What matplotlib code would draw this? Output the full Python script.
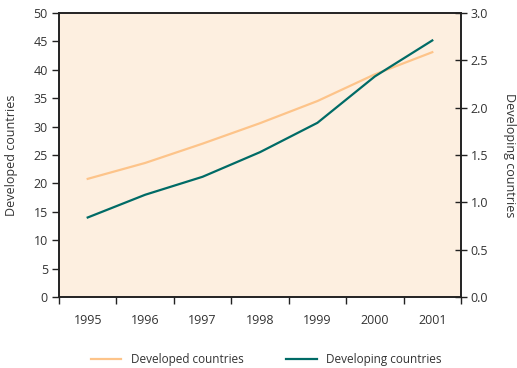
import numpy as np
import matplotlib.pyplot as plt
from matplotlib.lines import Line2D

plt.rcParams['font.family'] = ['Open Sans', 'DejaVu Sans']

years = ['1995', '1996', '1997', '1998', '1999', '2000', '2001']
developed = [20.8, 23.6, 27.0, 30.6, 34.5, 39.2, 43.1]
developing = [0.84, 1.08, 1.27, 1.53, 1.84, 2.33, 2.71]

orange = '#fdc48a'
teal = '#006b66'
txt = '#333333'

fig = plt.figure(figsize=(5.17, 3.68), dpi=100)
ax = fig.add_axes([0.1141, 0.1929, 0.7776, 0.7718])
ax.set_facecolor('#fdefe0')
ax2 = ax.twinx()

x = np.arange(len(years))
ax.plot(x, developed, color=orange, lw=1.6)
ax2.plot(x, developing, color=teal, lw=1.6)

ax.set_xlim(-0.5, len(years) - 0.5)
ax.set_ylim(0, 50)
ax2.set_ylim(0, 3)
ax.set_yticks(np.arange(0, 51, 5))
ax2.set_yticks(np.arange(0, 3.01, 0.5))
ax2.set_yticklabels(['%.1f' % v for v in np.arange(0, 3.01, 0.5)])

# ticks between categories, labels centred on them
ax.set_xticks(np.arange(-0.5, len(years), 1.0))
ax.set_xticklabels([])
ax.set_xticks(x, minor=True)
ax.set_xticklabels(years, minor=True)
ax.tick_params(axis='x', which='minor', length=0, pad=12, labelsize=9, labelcolor=txt)
ax.tick_params(axis='x', which='major', length=5, width=1, color='#222222')
ax.tick_params(axis='y', length=5, width=1, color='#222222', labelsize=9, labelcolor=txt, pad=3)
ax2.tick_params(axis='y', direction='inout', length=8, width=1, color='#222222',
                labelsize=9, labelcolor=txt, pad=3)

for a in (ax, ax2):
    for s in a.spines.values():
        s.set_color('#222222')
        s.set_linewidth(1.2)

ax.set_ylabel('Developed countries', fontsize=9, color=txt, labelpad=11)
ax2.set_ylabel('Developing countries', fontsize=9, color=txt, rotation=270, labelpad=20)

handles = [Line2D([], [], color=orange, lw=1.6), Line2D([], [], color=teal, lw=1.6)]
fig.legend(handles, ['Developed countries', 'Developing countries'], loc='center',
           bbox_to_anchor=(0.515, 0.022), ncol=2, frameon=False, fontsize=8.5,
           handlelength=2.6, handletextpad=0.8, columnspacing=3.6, labelcolor=txt)

fig.savefig('out.png', dpi=100)
